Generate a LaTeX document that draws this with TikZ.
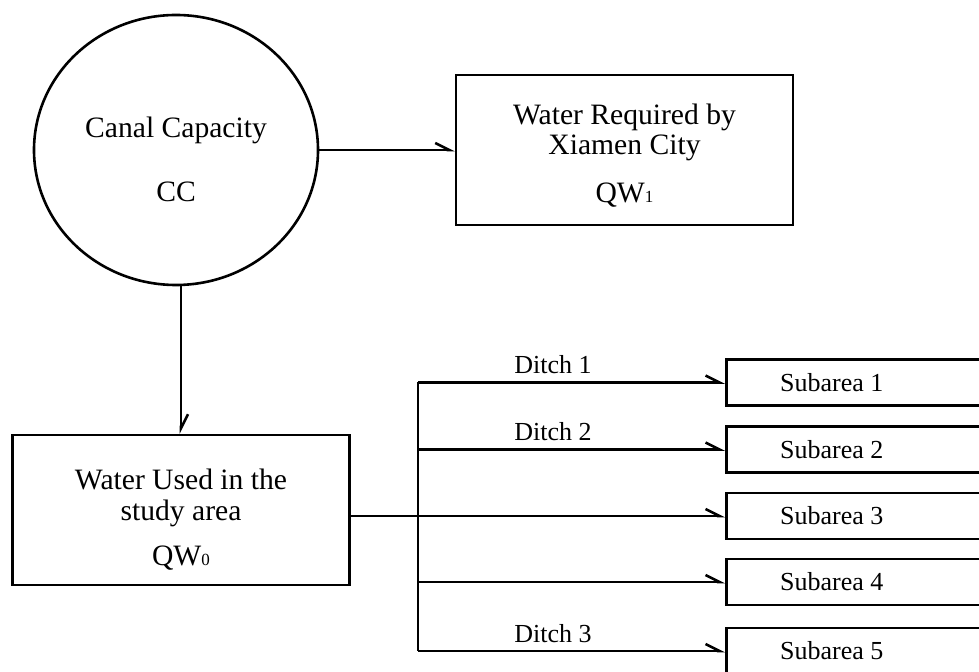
\documentclass[tikz,border=0pt]{standalone}
\usepackage{fontspec}
\setmainfont{Liberation Serif}
\usetikzlibrary{arrows.meta,shapes.geometric}

\newcommand{\qsub}[1]{{\fontsize{8.5}{8.5}\selectfont #1}}

\begin{document}
\begin{tikzpicture}[x=0.5pt, y=-0.5pt, line width=1.3pt,
    flow/.style={-{Straight Barb[harpoon, length=7pt, width=7pt]}},
    bigbox/.style={draw, minimum width=168.5pt, minimum height=75pt, align=center, font=\fontsize{14.8}{15.5}\selectfont},
    subbox/.style={draw, anchor=west, inner xsep=0pt, minimum height=23pt, font=\fontsize{13}{14}\selectfont},
    ditch/.style={above=2.5pt, inner sep=1pt, pos=0.44, font=\fontsize{13}{14}\selectfont}]
    \useasboundingbox (0,0) rectangle (979,672);

    % --- canal and the two users ---
    \node[ellipse, draw, minimum width=142pt, minimum height=135pt, align=center, font=\fontsize{14.8}{15}\selectfont] (cc) at (176,150) {\rule{0pt}{20pt}Canal Capacity\\[17pt]CC};
    \node[bigbox, font=\fontsize{14.8}{15}\selectfont] (qw1) at (624.5,150) {\rule{0pt}{16pt}Water Required by\\Xiamen City\\[9pt]QW\qsub{1}};
    \node[bigbox] (qw0) at (181,510) {\rule{0pt}{20pt}Water Used in the\\study area\\[7pt]QW\qsub{0}};
    \draw[flow] (cc) -- (qw1);
    \draw[flow] (cc.south -| qw0.north) -- (qw0.north);

    % --- subareas fed by the ditches ---
    \foreach \i/\y in {1/382.5, 2/449.5, 3/516, 4/582, 5/651}
        \node[subbox] (sub\i) at (725,\y) {\makebox[105.5pt]{Subarea \i}\hspace*{50pt}};
    \coordinate (trunk) at (418,516);
    \draw (trunk |- sub1.west) -- (trunk |- sub5.west);
    \draw[flow] (qw0.east |- sub3.west) -- (sub3.west);
    \draw[flow] (trunk |- sub1.west) -- node[ditch] (ditch1) {Ditch 1} (sub1.west);
    \draw[flow] (trunk |- sub2.west) -- node[ditch] (ditch2) {Ditch 2} (sub2.west);
    \draw[flow] (trunk |- sub4.west) -- (sub4.west);
    \draw[flow] (trunk |- sub5.west) -- node[ditch] (ditch3) {Ditch 3} (sub5.west);
\end{tikzpicture}
\end{document}
